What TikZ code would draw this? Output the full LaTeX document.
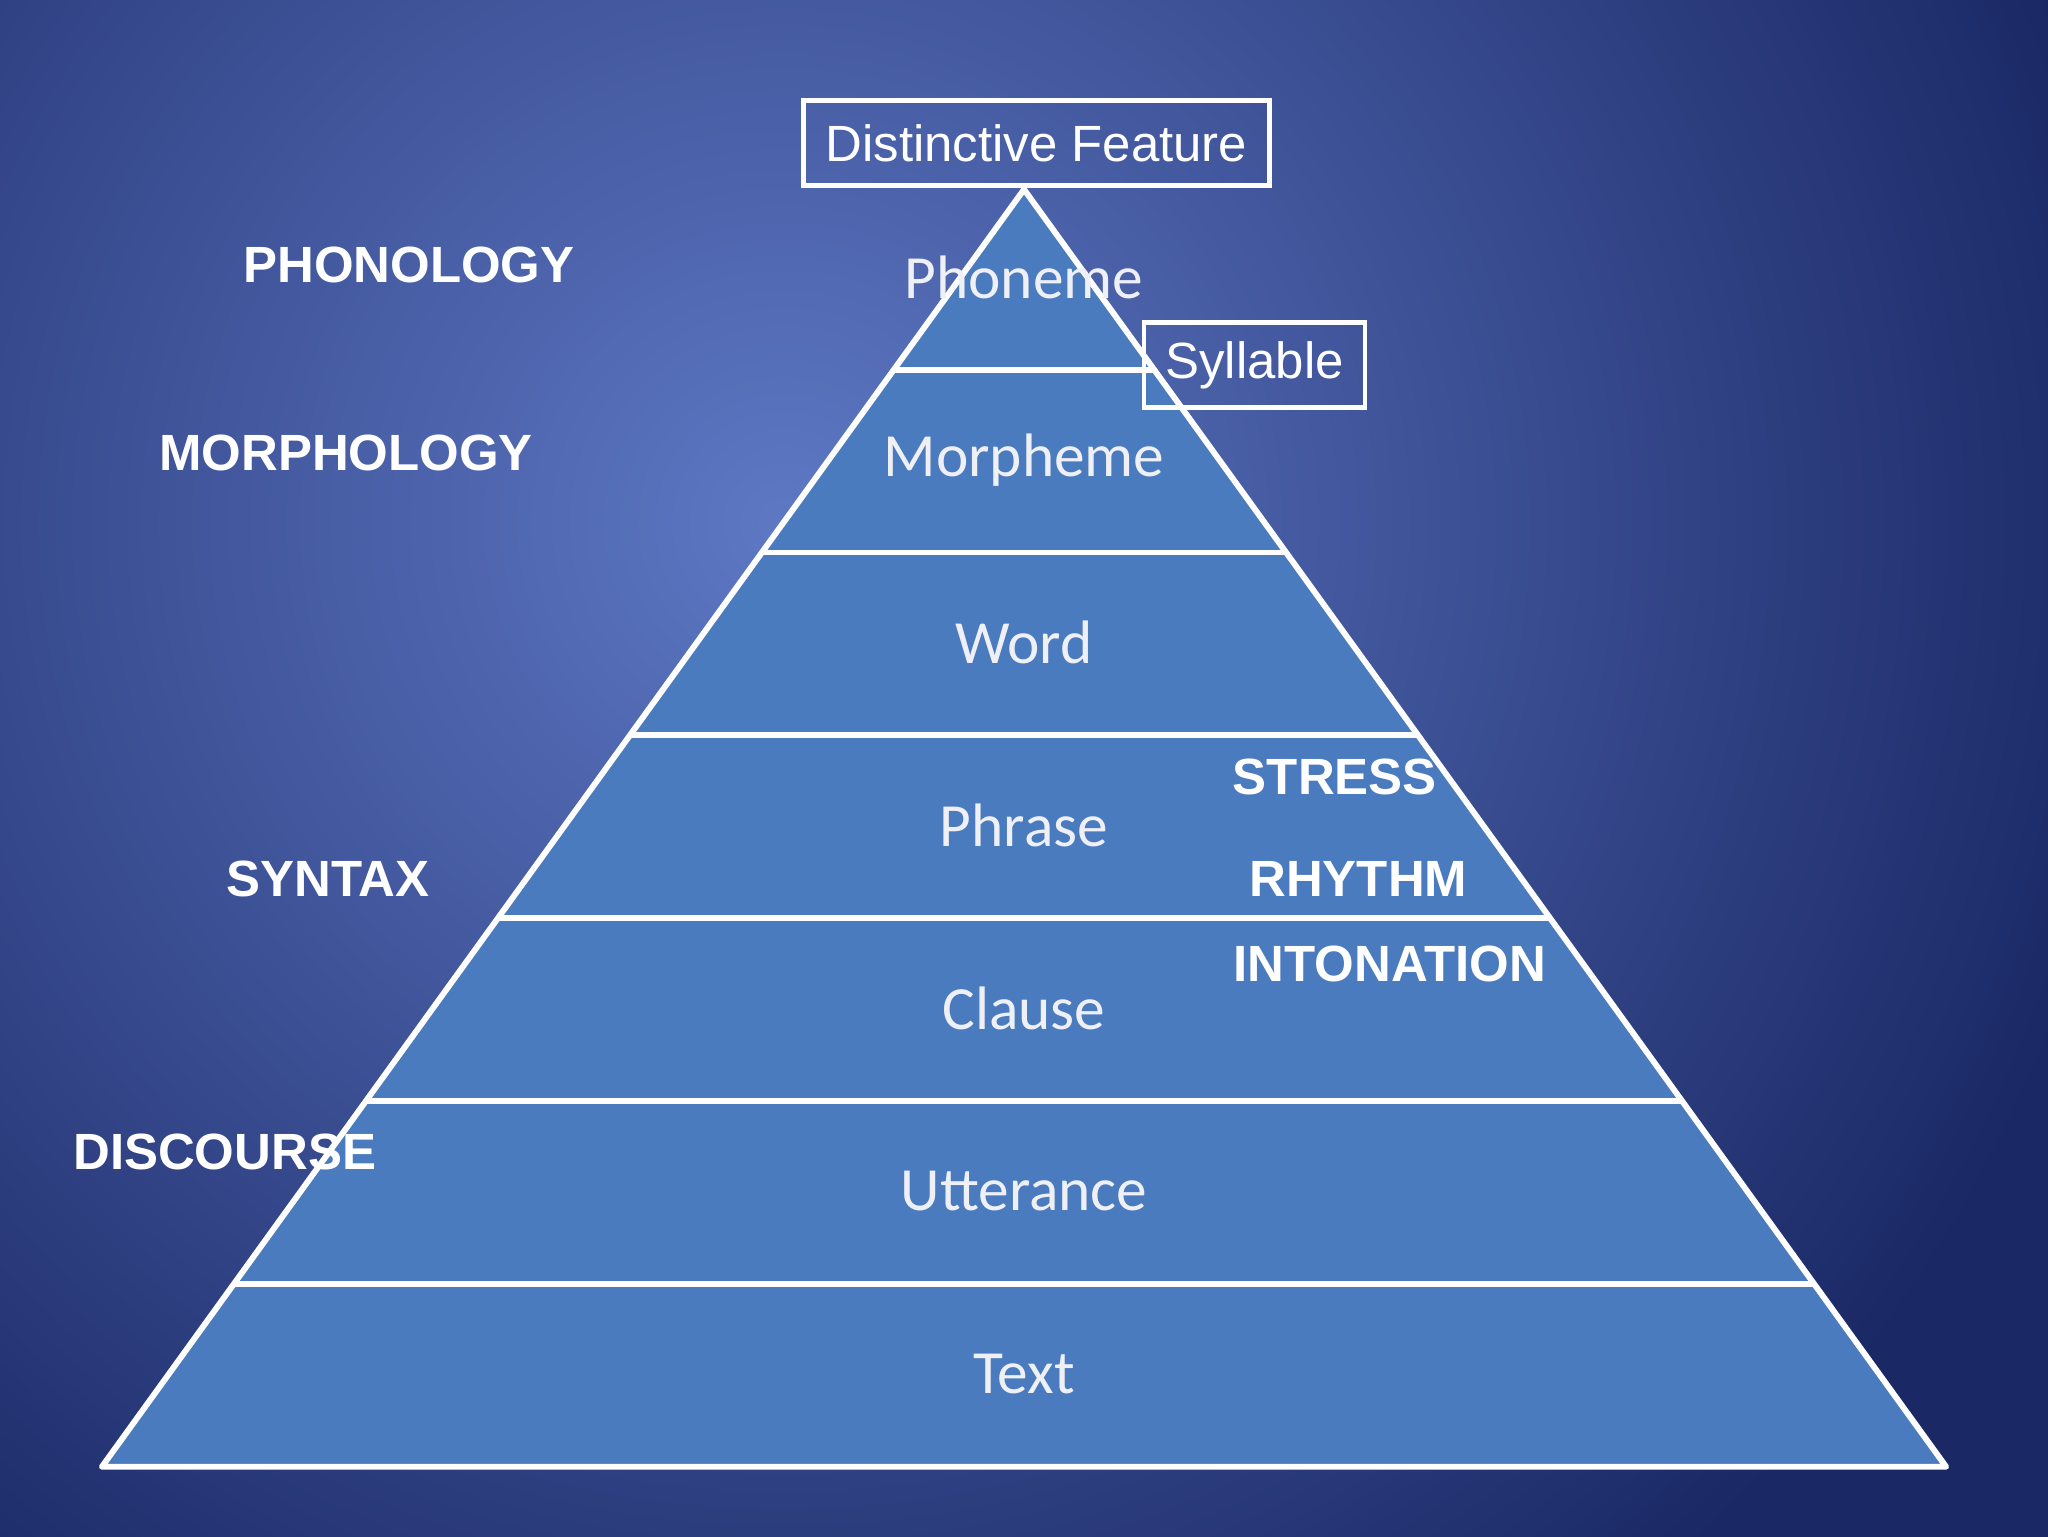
\documentclass[tikz,border=0pt]{standalone}
\usepackage{fontspec}
\setmainfont{Liberation Sans}
\newfontfamily\calib{Carlito}
\usetikzlibrary{calc}
\definecolor{pyr}{HTML}{4A7BBE}
\definecolor{bgdark}{HTML}{1A2865}
\definecolor{bglight}{HTML}{5E78C4}
\definecolor{lvltxt}{HTML}{EEF0F5}
\tikzset{
 lvl/.style={font=\calib\fontsize{47}{47}\selectfont, text=lvltxt},
 lab/.style={font=\bfseries\fontsize{39}{39}\selectfont, text=white},
 boxed/.style={draw=white, line width=3.5pt, fill=none, text=white, font=\fontsize{39}{39}\selectfont, inner sep=0pt},
 edge/.style={draw=white, line width=4.5pt, line join=round}
}
\begin{document}
\begin{tikzpicture}[x=1pt,y=-1pt]
\useasboundingbox (0,0) rectangle (1568,1176);
\begin{scope}
\clip (0,0) rectangle (1568,1176);
\shade[inner color=bglight, outer color=bgdark] (600-1050,400-1050) rectangle (600+1050,400+1050);
\end{scope}
\coordinate (A) at (784,145);
\coordinate (L) at (78,1123);
\coordinate (R) at (1490,1123);
\fill[pyr] (A) -- (L) -- (R) -- cycle;
\foreach \y [count=\i] in {283,423,563,703,843,983}{
  \pgfmathsetmacro\t{(\y-145)/978}
  \coordinate (l\i) at ($(A)!\t!(L)$);
  \coordinate (r\i) at ($(A)!\t!(R)$);
  \draw[edge] (l\i) -- (r\i);
}
\draw[edge] (A) -- (L) -- (R) -- cycle;
\node[lvl] (ph) at (784,212) {Phoneme};
\node[lvl] (mo) at (784,352) {Morpheme};
\node[lvl] (wo) at (784,492) {Word};
\node[lvl] (pr) at (784,632) {Phrase};
\node[lvl] (cl) at (784,772) {Clause};
\node[lvl] (ut) at (784,912) {Utterance};
\node[lvl] (te) at (784,1052) {Text};
\node[boxed, minimum width=357pt, minimum height=65pt] (df) at (793.5,109.5) {Distinctive Feature};
\node[boxed, minimum width=169pt, minimum height=65pt] (sy) at (960.5,279.5) {Syllable};
\node[lab] (p1) at (313,203) {PHONOLOGY};
\node[lab] (p2) at (265,347) {MORPHOLOGY};
\node[lab] (p3) at (251,673) {SYNTAX};
\node[lab] (p4) at (172,882) {DISCOURSE};
\node[lab] (s1) at (1022,595) {STRESS};
\node[lab] (s2) at (1040,673) {RHYTHM};
\node[lab] (s3) at (1064,738) {INTONATION};
\end{tikzpicture}
\end{document}
